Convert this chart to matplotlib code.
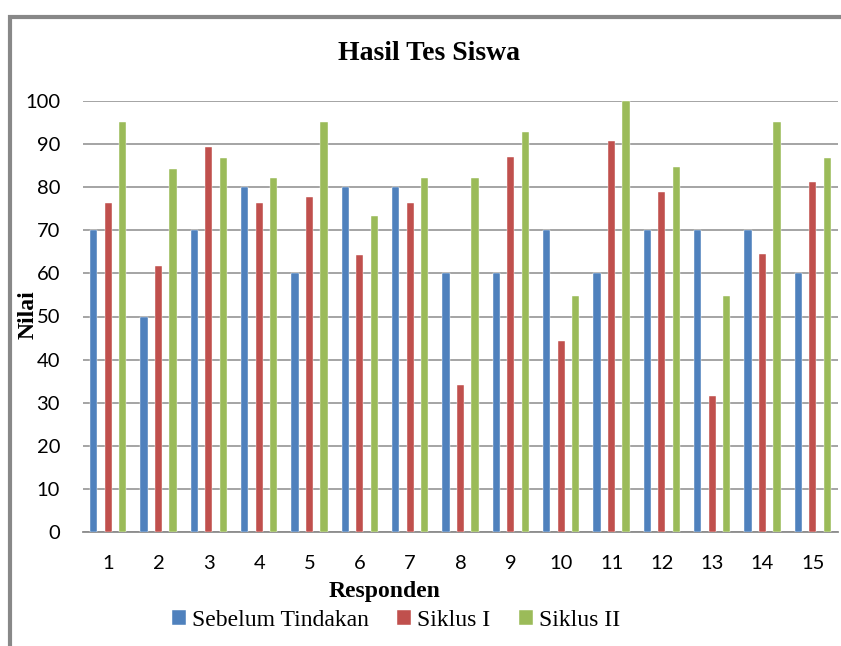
import matplotlib
matplotlib.use("Agg")
import matplotlib.pyplot as plt
from matplotlib.patches import Rectangle
import numpy as np

responden = [str(i) for i in range(1, 16)]
sebelum = [70, 50, 70, 80, 60, 80, 80, 60, 60, 70, 60, 70, 70, 70, 60]
siklus1 = [76.3, 61.8, 89.3, 76.3, 77.7, 64.3, 76.3, 34.0, 86.9, 44.4, 90.8, 79.0, 31.6, 64.5, 81.3]
siklus2 = [95.2, 84.3, 86.7, 82.1, 95.2, 73.4, 82.1, 82.1, 92.8, 54.7, 100, 84.7, 54.7, 95.2, 86.7]
series_names = ["Sebelum Tindakan", "Siklus I", "Siklus II"]
yticks = list(range(0, 101, 10))

colors = ["#4F81BD", "#C0504D", "#9BBB59"]
W, H = 841, 646
fig = plt.figure(figsize=(W / 100, H / 100), dpi=100)
fig.patch.set_facecolor("white")

ax = fig.add_axes([83 / W, 1 - 532 / H, (838 - 83) / W, (532 - 101) / H])
x = np.arange(len(responden))
off = 0.288
bw = 0.145
for i, (vals, c, name) in enumerate(zip([sebelum, siklus1, siklus2], colors, series_names)):
    ax.bar(x + (i - 1) * off, vals, width=bw, color=c, label=name, zorder=3,
           edgecolor="white", linewidth=0.3)

ax.set_xlim(-0.5, len(responden) - 0.5)
ax.set_ylim(0, 100)
ax.set_yticks(yticks)
ax.set_xticks(x)
ax.set_xticklabels(responden)
ax.yaxis.grid(True, color="#8c8c8c", linewidth=1.1, zorder=0)
ax.set_axisbelow(True)
for s in ["left", "right", "top"]:
    ax.spines[s].set_visible(False)
ax.spines["bottom"].set_color("#8c8c8c")
ax.spines["bottom"].set_linewidth(1.3)
ax.tick_params(axis="both", length=0, labelsize=14.5)
ax.tick_params(axis="y", pad=16.5)
ax.tick_params(axis="x", pad=16.5)
for lab in ax.get_xticklabels() + ax.get_yticklabels():
    lab.set_fontfamily("Lato")

fig.text(429 / W, 1 - 53 / H, "Hasil Tes Siswa", ha="center", va="center",
         fontsize=20, fontweight="bold", family="Liberation Serif")
fig.text(28 / W, 1 - 315 / H, "Nilai", ha="center", va="center", rotation=90,
         fontsize=17, fontweight="bold", family="Liberation Serif")
fig.text(385 / W, 1 - 592 / H, "Responden", ha="center", va="center",
         fontsize=17, fontweight="bold", family="Liberation Serif")

handles, labels = ax.get_legend_handles_labels()
leg = fig.legend(handles, labels, loc="center", bbox_to_anchor=(396 / W, 1 - 620 / H),
                 ncol=3, frameon=False, prop={"family": "Liberation Serif", "size": 17},
                 handlelength=0.6, handleheight=0.6, handletextpad=0.25,
                 columnspacing=1.2, borderaxespad=0, borderpad=0)

# outer frame (top and left edges visible)
fig.add_artist(Rectangle((10 / W, -0.1), 1.2, 1.1 - 16.5 / H, transform=fig.transFigure,
                         facecolor="none", edgecolor="#888888", linewidth=3, clip_on=False))

fig.savefig("out.png", dpi=100, facecolor="white")
